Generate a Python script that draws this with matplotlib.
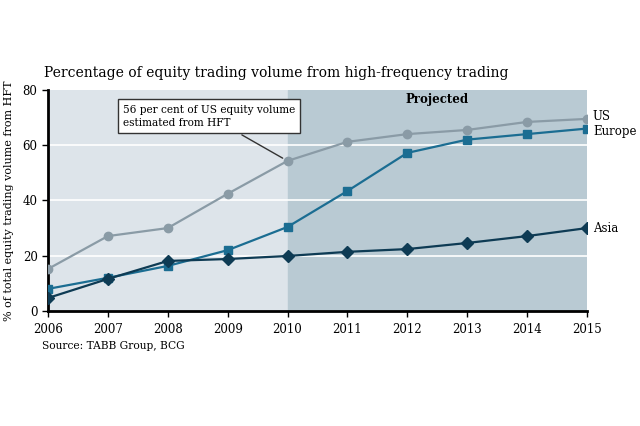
import numpy as np
import matplotlib.pyplot as plt

years = [2006, 2007, 2008, 2009, 2010, 2011, 2012, 2013, 2014, 2015]
us = [15.2, 27.1, 30.0, 42.4, 54.3, 61.2, 64.0, 65.5, 68.4, 69.5]
europe = [8.0, 12.0, 16.3, 22.0, 30.4, 43.4, 57.2, 62.0, 64.0, 66.0]
asia = [4.7, 11.6, 18.1, 18.8, 19.9, 21.4, 22.4, 24.6, 27.1, 30.0]

plt.rcParams['font.family'] = ['DejaVu Serif']

fig = plt.figure(figsize=(6.4, 4.26), dpi=100)
ax = fig.add_axes([0.075, 0.27, 0.842, 0.519])

ax.axvspan(2006, 2010, color='#dde4ea', zorder=0)
ax.axvspan(2010, 2015, color='#b9cad3', zorder=0)
for y in [20, 40, 60]:
    ax.axhline(y, color='white', lw=1.2, zorder=1)

ax.plot(years, us, color='#8a9ba6', marker='o', ms=6, lw=1.6, zorder=3)
ax.plot(years, europe, color='#1b6d92', marker='s', ms=6, lw=1.6, zorder=4)
ax.plot(years, asia, color='#0e3b54', marker='D', ms=6, lw=1.6, zorder=5)

ax.set_xlim(2006, 2015)
ax.set_ylim(0, 80)
ax.set_xticks(years)
ax.set_yticks([0, 20, 40, 60, 80])
ax.tick_params(labelsize=8.5, length=4, width=1)
ax.tick_params(axis='x', pad=5)
for s in ['top', 'right']:
    ax.spines[s].set_visible(False)
ax.spines['left'].set_linewidth(2)
ax.spines['bottom'].set_linewidth(2)

ax.set_ylabel('% of total equity trading volume from HFT', fontsize=8, labelpad=6)
ax.text(2012.5, 76.5, 'Projected', ha='center', va='center', fontsize=8.5, fontweight='bold')

ax.text(2015.1, 70.5, 'US', fontsize=8.5, va='center')
ax.text(2015.1, 64.8, 'Europe', fontsize=8.5, va='center')
ax.text(2015.1, asia[-1], 'Asia', fontsize=8.5, va='center')

# callout pointing at the 2010 US value
ax.annotate('56 per cent of US equity volume\nestimated from HFT',
            xy=(2010, us[4]), xytext=(2007.25, 70.5),
            fontsize=7.6, va='center', ha='left', linespacing=1.4,
            bbox=dict(boxstyle='square,pad=0.5', fc='white', ec='#333333', lw=1),
            arrowprops=dict(arrowstyle='-', color='#333333', lw=1, shrinkB=4),
            zorder=6)

fig.text(0.068, 0.829, 'Percentage of equity trading volume from high-frequency trading',
         fontsize=10, va='center')
fig.text(0.065, 0.188, 'Source: TABB Group, BCG', fontsize=7.7, va='center')

fig.savefig('out.png', dpi=100)
